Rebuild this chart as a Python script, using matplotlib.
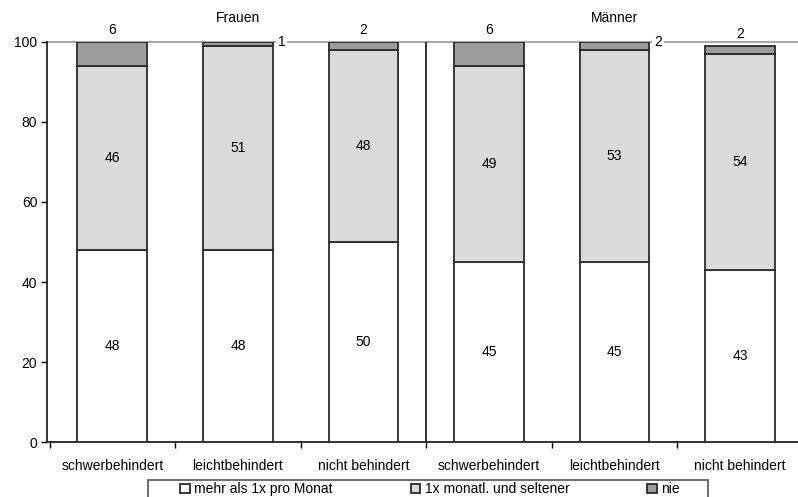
import matplotlib
matplotlib.use("Agg")
import matplotlib.pyplot as plt
from matplotlib.patches import Rectangle
import numpy as np

plt.rcParams['font.family'] = ['Liberation Sans', 'DejaVu Sans']

categories = ["schwerbehindert", "leichtbehindert", "nicht behindert",
              "schwerbehindert", "leichtbehindert", "nicht behindert"]
groups = ["Frauen", "Männer"]
mehr_als_1x = [48, 48, 50, 45, 45, 43]
monatl_seltener = [46, 51, 48, 49, 53, 54]
nie = [6, 1, 2, 6, 2, 2]
series_names = ["mehr als 1x pro Monat", "1x monatl. und seltener", "nie"]
yticks = [0, 20, 40, 60, 80, 100]

fig = plt.figure(figsize=(7.98, 4.97), dpi=100)
ax = fig.add_axes([47/798, 55/497, 756/798, 400/497])

x = np.arange(len(categories))
w = 0.555
ec = '#2a2a2a'
b1 = ax.bar(x, mehr_als_1x, w, color='white', edgecolor=ec, lw=1.3, label=series_names[0], zorder=3)
b2 = ax.bar(x, monatl_seltener, w, bottom=mehr_als_1x, color='#dadada', edgecolor=ec, lw=1.3,
            label=series_names[1], zorder=3)
bot3 = np.array(mehr_als_1x) + np.array(monatl_seltener)
b3 = ax.bar(x, nie, w, bottom=bot3, color='#9c9c9c', edgecolor=ec, lw=1.3, label=series_names[2], zorder=3)

fs = 10
for i in range(len(x)):
    ax.text(x[i], mehr_als_1x[i] / 2, str(mehr_als_1x[i]), ha='center', va='center', fontsize=fs, zorder=5)
    ax.text(x[i], mehr_als_1x[i] + monatl_seltener[i] / 2, str(monatl_seltener[i]),
            ha='center', va='center', fontsize=fs, zorder=5)
    top = bot3[i] + nie[i]
    if i in (1, 4):
        ax.text(x[i] + w / 2 + 0.07, top, str(nie[i]), ha='center', va='center', fontsize=fs, zorder=5,
                bbox=dict(facecolor='white', edgecolor='none', pad=1.5))
    else:
        ax.text(x[i], top + 3, str(nie[i]), ha='center', va='center', fontsize=fs, zorder=5)

ax.text(1, 106, groups[0], ha='center', va='center', fontsize=fs)
ax.text(4, 106, groups[1], ha='center', va='center', fontsize=fs)

ax.axvline(2.5, ymin=0, ymax=1, color='#222222', lw=1.3, zorder=2)

ax.set_xlim(-0.52, 5.48)
ax.set_ylim(0, 100)
ax.set_yticks(yticks)
ax.tick_params(axis='y', length=4, width=1, pad=3, labelsize=fs)
ax.set_xticks(np.arange(-0.5, 6, 1))
ax.set_xticklabels([])
ax.set_xticks(x, minor=True)
ax.set_xticklabels(categories, minor=True, fontsize=fs)
ax.tick_params(axis='x', which='major', length=4, width=1, direction='out')
ax.tick_params(axis='x', which='minor', length=0, pad=12)

for s in ['left', 'bottom']:
    ax.spines[s].set_color('#222222')
    ax.spines[s].set_linewidth(1.3)
ax.spines['right'].set_visible(False)
ax.spines['top'].set_color('#a0a0a0')
ax.spines['top'].set_linewidth(1.3)
ax.spines['top'].set_zorder(1)

# legend frame (cut off at the bottom edge, as in the reference)
fig.patches.append(Rectangle((148/798, -0.05), 560/798, 0.05 + 1 - 480/497,
                             transform=fig.transFigure, facecolor='white',
                             edgecolor='#555555', lw=1.2))
leg = fig.legend(handles=[b1, b2, b3], labels=series_names, ncol=3,
                 loc='upper center', bbox_to_anchor=(430/798, 1 - 479/497),
                 fontsize=fs, frameon=False, columnspacing=5.6,
                 handlelength=0.7, handleheight=0.7, handletextpad=0.3,
                 borderpad=0.25, borderaxespad=0)

fig.savefig("out.png", dpi=100)
